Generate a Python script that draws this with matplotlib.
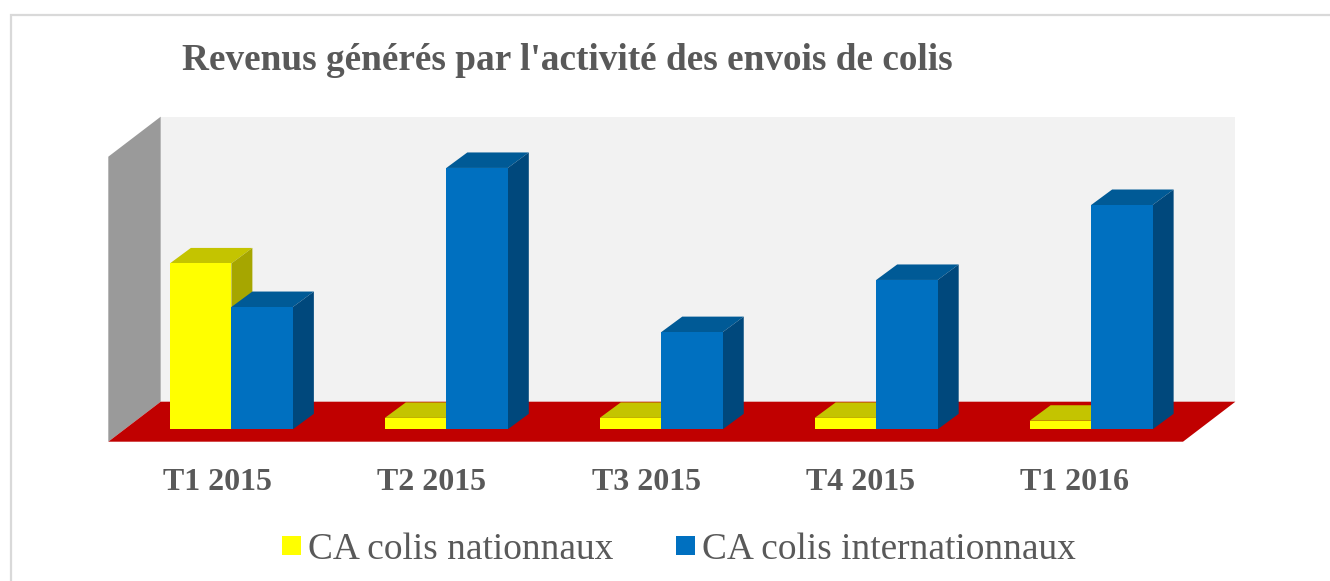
import matplotlib
matplotlib.use("Agg")
import matplotlib.pyplot as plt
from matplotlib.patches import Polygon, Rectangle

categories = ["T1 2015", "T2 2015", "T3 2015", "T4 2015", "T1 2016"]
nationaux = [58.2, 4.0, 4.0, 4.0, 3.0]
internationaux = [42.9, 91.7, 34.1, 52.4, 78.7]
series_names = ["CA colis nationnaux", "CA colis internationnaux"]
title = "Revenus générés par l'activité des envois de colis"

W, H = 1330, 581
plt.rcParams["font.family"] = ["Liberation Serif", "DejaVu Serif"]
fig = plt.figure(figsize=(W / 100, H / 100), dpi=100, facecolor="white")
GREY = "#595959"

# page frame in figure pixels
bg = fig.add_axes([0, 0, 1, 1])
bg.set_xlim(0, W)
bg.set_ylim(H, 0)
bg.axis("off")
bg.plot([10.5, 10.5, W], [H, 14.5, 14.5], color="#d9d9d9", lw=1.6, solid_joinstyle="miter")

# plot axes: front plane of the 3D box
L, R, B, T = 108.3, 1183, 441.7, 156.7
ax = fig.add_axes([L / W, 1 - B / H, (R - L) / W, (B - T) / H])
ax.set_xlim(-0.5, len(categories) - 0.5)
ax.set_ylim(0, 100)
ax.axis("off")
px_x = (len(categories)) / (R - L)
px_y = 100 / (B - T)


def P(x, y, dx=0, dy=0):
    return (x + dx * px_x, y + dy * px_y)


# box depth
DX, DY = 52.4, 40
x0, x1 = -0.5, len(categories) - 0.5
wall = dict(clip_on=False, lw=0)
ax.add_patch(Polygon([P(x0, 0, DX, DY), P(x1, 0, DX, DY), P(x1, 100, DX, DY), P(x0, 100, DX, DY)], fc="#f2f2f2", **wall))
ax.add_patch(Polygon([P(x0, 0), P(x0, 100), P(x0, 100, DX, DY), P(x0, 0, DX, DY)], fc="#9a9a9a", **wall))
ax.add_patch(Polygon([P(x0, 0), P(x1, 0), P(x1, 0, DX, DY), P(x0, 0, DX, DY)], fc="#c00000", **wall))

# bars: front face offset into the box, then 21x15.5 px of depth
OX, OY = 15.6, 12.4
BX, BY = 21, 15.5
BAR = 61.5 * px_x


def bar3d(xl, v, front, top, side):
    a, b = xl, xl + BAR
    z0 = 0
    ax.add_patch(Polygon([P(a, v, OX, OY), P(b, v, OX, OY), P(b, v, OX + BX, OY + BY), P(a, v, OX + BX, OY + BY)], fc=top, lw=0, clip_on=False, zorder=3))
    ax.add_patch(Polygon([P(b, z0, OX, OY), P(b, v, OX, OY), P(b, v, OX + BX, OY + BY), P(b, z0, OX + BX, OY + BY)], fc=side, lw=0, clip_on=False, zorder=3))
    ax.add_patch(Polygon([P(a, z0, OX, OY), P(b, z0, OX, OY), P(b, v, OX, OY), P(a, v, OX, OY)], fc=front, lw=0, clip_on=False, zorder=3))


for i, (n, t) in enumerate(zip(nationaux, internationaux)):
    bar3d(i - BAR, n, "#ffff00", "#c4c400", "#a6a600")
    bar3d(i, t, "#0070c0", "#005a96", "#00487c")

# category labels
for i, c in enumerate(categories):
    bg.text(217 + i * 214.5, 482, c, ha="center", va="center",
            fontsize=23, fontweight="bold", color=GREY)

# title
bg.text(182, 60, title, ha="left", va="center", fontsize=26.8, fontweight="bold", color=GREY)

# legend
for sx, col, name in zip([282, 676], ["#ffff00", "#0070c0"], series_names):
    bg.add_patch(Rectangle((sx, 536), 18.5, 18.5, fc=col, lw=0))
    bg.text(sx + 26, 550, name, ha="left", va="center", fontsize=26.9, color=GREY)

fig.savefig("out.png", dpi=100, facecolor="white")
